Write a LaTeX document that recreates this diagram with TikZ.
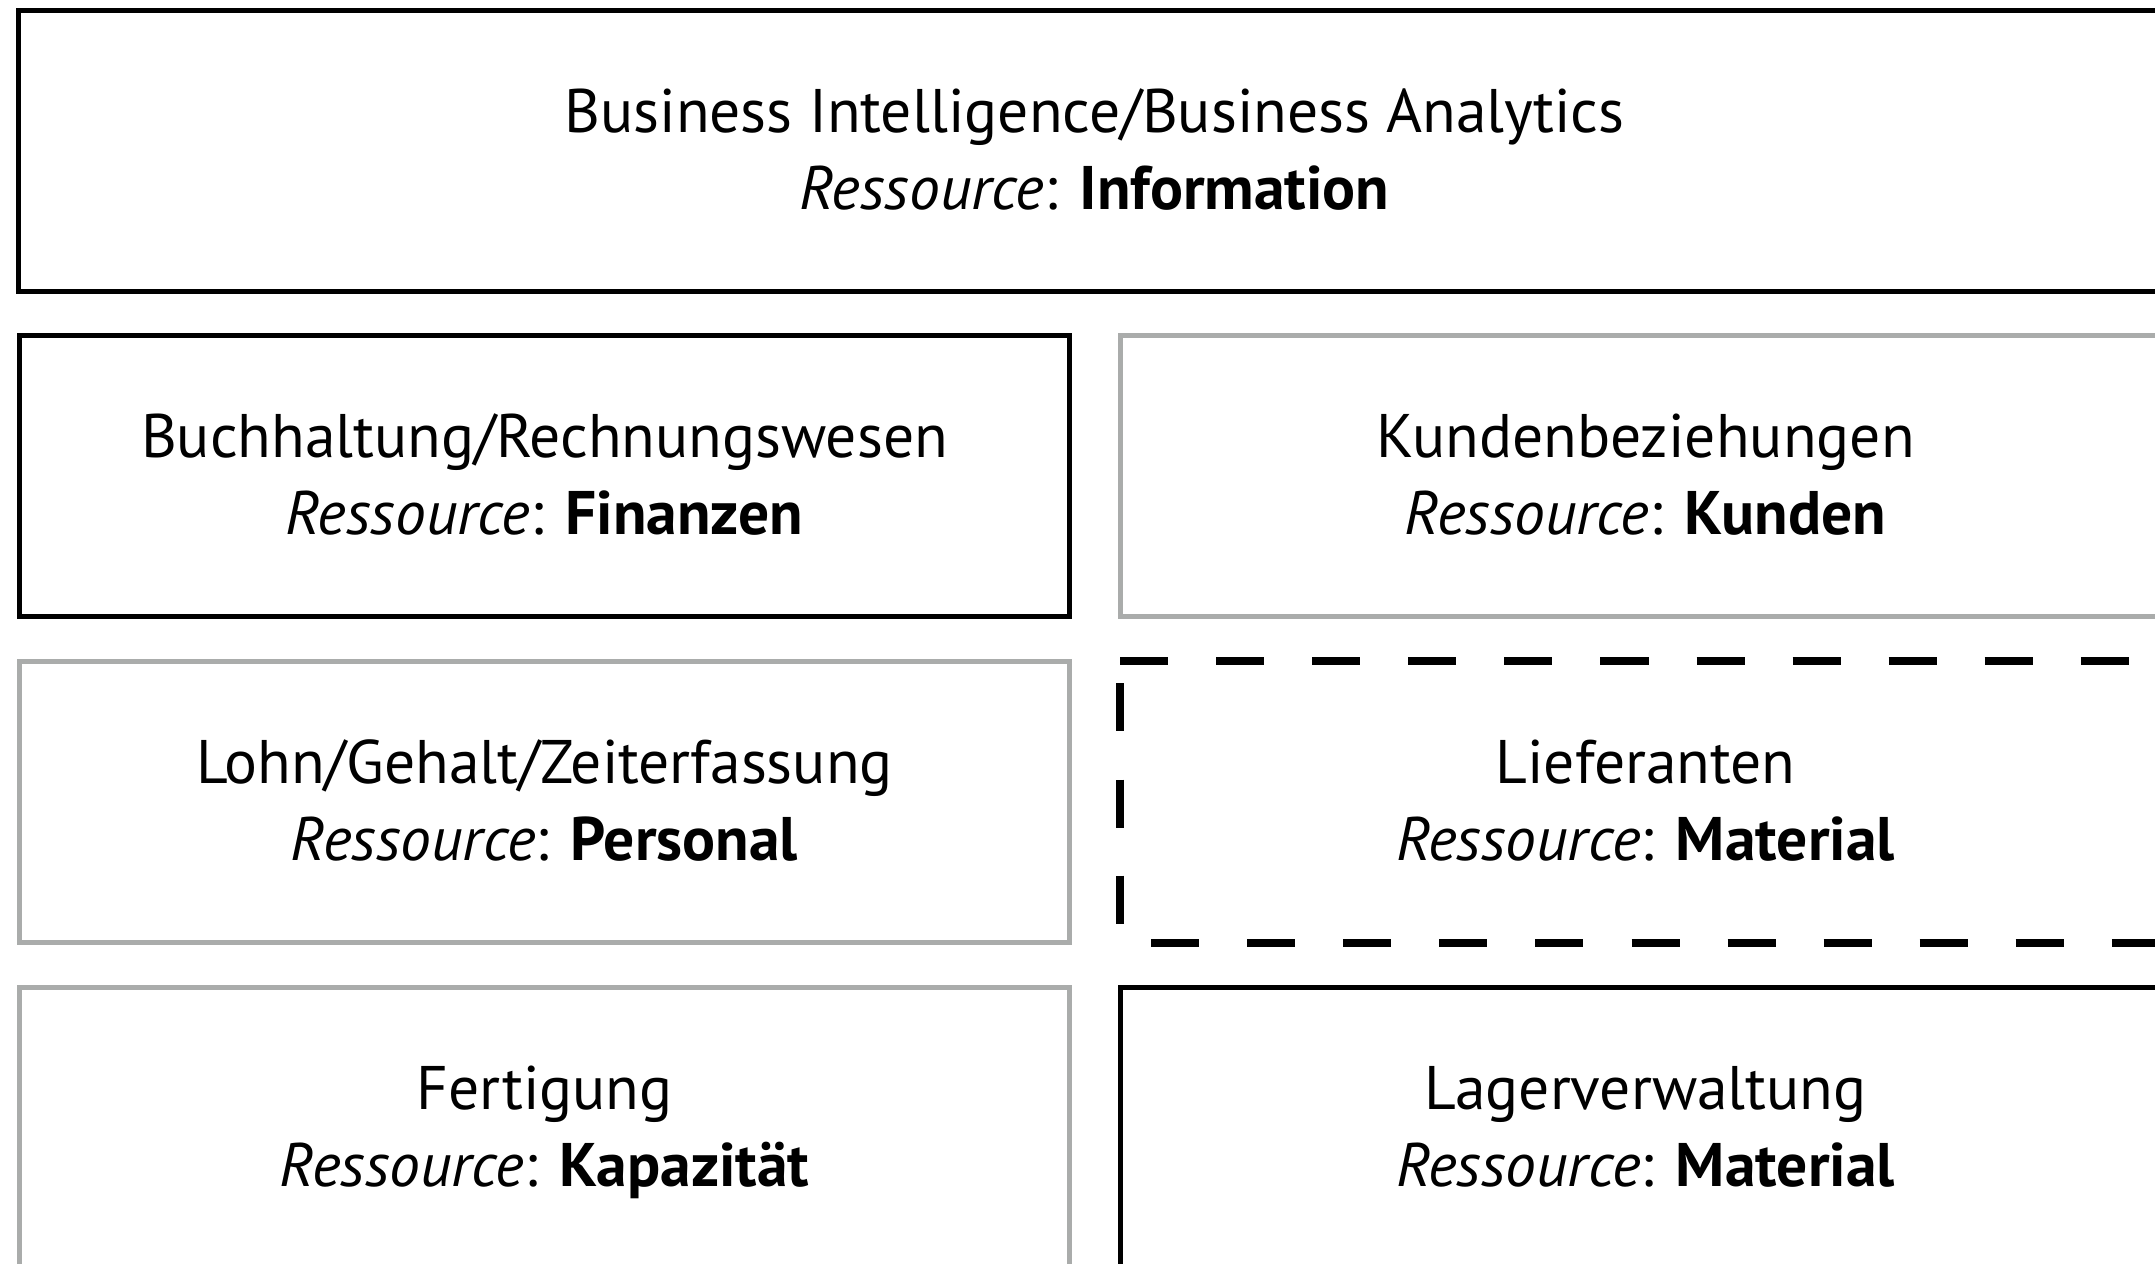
\documentclass[tikz,border=0pt]{standalone}
\usepackage{fontspec}
\setmainfont{PT Sans}
\definecolor{rahmengrau}{RGB}{170,172,171}
\newcommand{\ressource}[2]{\rule{0pt}{0.63cm}#1\\\textit{Ressource}: \textbf{#2}\strut}
\tikzset{
	modul/.style={draw,line width=0.05cm,outer sep=0pt,inner sep=0pt,minimum width=10.5cm,minimum height=2.81cm,align=center,font=\fontsize{17.5}{22}\selectfont},
	grau/.style={modul,draw=rahmengrau},
	strich/.style={line width=0.08cm,dash pattern=on 0.48cm off 0.48cm}
}
\begin{document}
\begin{tikzpicture}[x=0.01cm,y=-0.01cm]
		\path[use as bounding box,clip] (0,0) rectangle (2155,1263);
		%BI/BA
		\node[modul,minimum width=21.5cm] (bi) at (1094.5,151) {\ressource{Business Intelligence/Business Analytics}{Information}};
		%row 2
		\node[modul] (buch) at (544.5,476) {\ressource{Buchhaltung/Rechnungswesen}{Finanzen}};
		\node[grau] (kunden) at (1645.5,476) {\ressource{Kundenbeziehungen}{Kunden}};
		%row 3
		\node[grau] (lohn) at (544.5,802) {\ressource{Lohn/Gehalt/Zeiterfassung}{Personal}};
		\node[modul,draw=none] (lief) at (1645.5,802) {\ressource{Lieferanten}{Material}};
		\draw[strich] (lief.north west) -- (lief.north east);
		\draw[strich,dash phase=0.74cm] (lief.north west) -- (lief.south west);
		\draw[strich,dash phase=0.65cm] (lief.south west) -- (lief.south east);
		%row 4
		\node[grau] (fert) at (544.5,1128) {\ressource{Fertigung}{Kapazität}};
		\node[modul] (lager) at (1645.5,1128) {\ressource{Lagerverwaltung}{Material}};
\end{tikzpicture}
\end{document}
